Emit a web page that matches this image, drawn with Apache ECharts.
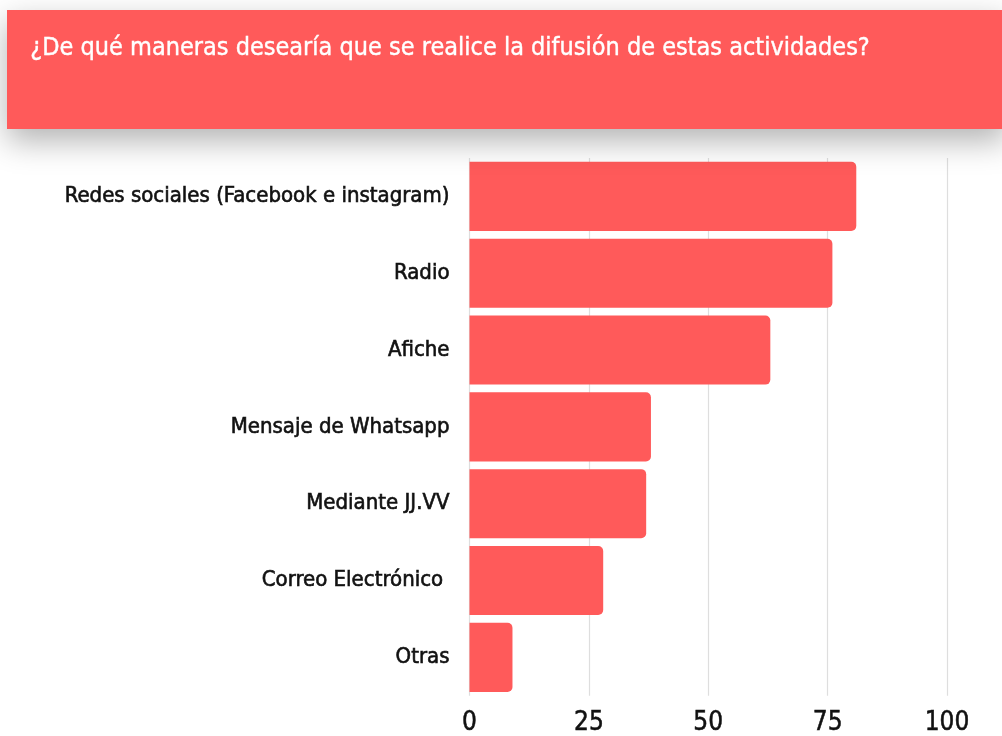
<!DOCTYPE html>
<html><head><meta charset="utf-8">
<script src="https://cdn.jsdelivr.net/npm/echarts@6/dist/echarts.min.js"></script>
<style>html,body{margin:0;padding:0;background:#fff}#c{width:1002px;height:736px}</style>
</head><body><div id="c"></div>
<script>
const titleText = '¿De qué maneras desearía que se realice la difusión de estas actividades?';
const categories = ['Redes sociales (Facebook e instagram)','Radio','Afiche','Mensaje de Whatsapp','Mediante JJ.VV','Correo Electrónico ','Otras'];
const values = [81, 76, 63, 38, 37, 28, 9];
const xTicks = [0, 25, 50, 75, 100];

const FONT = '"Liberation Sans Narrow","DejaVu Sans Condensed","Roboto",sans-serif';
const chart = echarts.init(document.getElementById('c'));
chart.setOption({
  backgroundColor: '#fff',
  animation: false,
  graphic: [
    {type:'rect', shape:{x:7,y:10,width:1000,height:119},
     style:{fill:'#FF5A5A', shadowColor:'rgba(0,0,0,0.3)', shadowBlur:30, shadowOffsetY:12}, z:10},
    {type:'text', left:30, top:36, z:11,
     style:{text:titleText, fill:'#fff', font:'25px ' + FONT, stroke:'#fff', lineWidth:0.4}}
  ],
  grid: {left:469.5, right:55, top:158, bottom:39, containLabel:false},
  xAxis: {
    type:'value', min:xTicks[0], max:xTicks[xTicks.length-1], interval:25,
    axisLine:{show:false}, axisTick:{show:false},
    splitLine:{lineStyle:{color:'#dedede', width:1.2}},
    axisLabel:{color:'#111', fontSize:26, fontFamily:FONT, margin:14, textBorderColor:'#111', textBorderWidth:0.5}
  },
  yAxis: {
    type:'category', data:categories, inverse:true,
    axisLine:{show:false}, axisTick:{show:false},
    axisLabel:{color:'#111', fontSize:22, fontFamily:FONT, margin:20, textBorderColor:'#111', textBorderWidth:0.6}
  },
  series: [{
    type:'bar', data:values, barCategoryGap:'10%',
    itemStyle:{color:'#FF5A5A', borderRadius:[0,5,5,0]}
  }]
});
</script></body></html>
